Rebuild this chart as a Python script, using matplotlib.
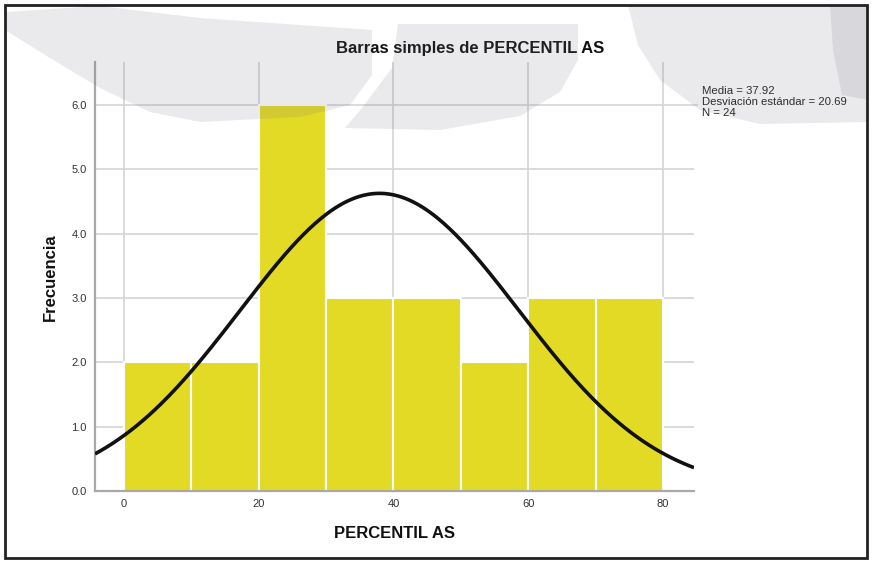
import numpy as np
import matplotlib
matplotlib.use("Agg")
import matplotlib.pyplot as plt
from matplotlib.patches import Polygon, Rectangle

# histogram data (bins of width 10)
bin_edges = [0, 10, 20, 30, 40, 50, 60, 70, 80]
counts = [2, 2, 6, 3, 3, 2, 3, 3]
xticks = [0, 20, 40, 60, 80]
yticks = [0.0, 1.0, 2.0, 3.0, 4.0, 5.0, 6.0]

# summary stats shown on the chart
media = 37.92
desv = 20.69
n = 24

plt.rcParams['font.family'] = ['Liberation Sans', 'DejaVu Sans']

W, H = 873, 563
fig = plt.figure(figsize=(W / 100, H / 100), dpi=100)
fig.patch.set_facecolor('white')

def px(x, y):
    # pixel coords (from top-left) -> figure fraction
    return (x / W, 1 - y / H)

ax = fig.add_axes([95 / W, 1 - 491 / H, (694 - 95) / W, (491 - 62) / H])
ax.set_facecolor('none')

widths = np.diff(bin_edges)
ax.bar(bin_edges[:-1], counts, width=widths, align='edge',
       color='#e3da25', edgecolor='white', linewidth=1.5, zorder=2)

# normal curve from the stats
xlim = (-4.3, 84.6)
xs = np.linspace(xlim[0], xlim[1], 300)
binw = bin_edges[1] - bin_edges[0]
ys = n * binw / (desv * np.sqrt(2 * np.pi)) * np.exp(-0.5 * ((xs - media) / desv) ** 2)
ax.plot(xs, ys, color='#111111', linewidth=2.6, zorder=3, solid_capstyle='butt')

ax.set_xlim(*xlim)
ax.set_ylim(0, 6.67)
ax.set_xticks(xticks)
ax.set_yticks(yticks)
ax.set_yticklabels([f'{v:.1f}' for v in yticks])
ax.tick_params(length=0, labelsize=8, colors='#333333', pad=6)
ax.grid(True, color='#d4d4d4', linewidth=1.2, zorder=1)
ax.set_axisbelow(True)
for s in ['top', 'right']:
    ax.spines[s].set_visible(False)
for s in ['left', 'bottom']:
    ax.spines[s].set_color('#a8a8a8')
    ax.spines[s].set_linewidth(1.6)

# extend the 6.0 line toward the stats text
ax.plot([xlim[1], xlim[1] + 0.5], [6, 6], color='#d4d4d4', linewidth=1.2,
        clip_on=False, zorder=1)

fig.text(*px(470, 48), 'Barras simples de PERCENTIL AS', ha='center', va='center',
         fontsize=12, fontweight='bold', color='#111111')
fig.text(*px(50, 277), 'Frecuencia', rotation=90, ha='center', va='center',
         fontsize=12, fontweight='bold', color='#111111')
fig.text(*px(394, 534), 'PERCENTIL AS', ha='center', va='center',
         fontsize=12, fontweight='bold', color='#111111')
fig.text(*px(702, 86), f'Media = {media:.2f}\nDesviación estándar = {desv:.2f}\nN = {n}',
         ha='left', va='top', fontsize=8.2, color='#222222', linespacing=1.15)

# faint watermark shapes in the top area
shade = dict(facecolor=(0.45, 0.45, 0.52), alpha=0.15, edgecolor='none',
             transform=fig.transFigure, zorder=10)
left_shape = [(5, 12), (100, 6), (200, 18), (372, 30), (372, 75), (350, 105),
              (300, 117), (200, 122), (150, 112), (100, 88), (50, 58), (5, 30)]
mid_shape = [(398, 24), (578, 24), (578, 60), (560, 92), (520, 116),
             (440, 130), (345, 128), (362, 108), (392, 68)]
right_shape = [(628, 5), (868, 5), (868, 122), (760, 124), (700, 110),
               (660, 80), (638, 45)]
strip = [(830, 5), (868, 5), (868, 100), (842, 95), (833, 50)]
for shp in [left_shape, mid_shape, right_shape, strip]:
    fig.patches.append(Polygon([px(x, y) for x, y in shp], **shade))

# outer frame
fig.patches.append(Rectangle(px(5, 558), (867 - 5) / W, (558 - 5) / H,
                             transform=fig.transFigure, fill=False,
                             edgecolor='#222222', linewidth=2, zorder=11))

fig.savefig('out.png', dpi=100)
